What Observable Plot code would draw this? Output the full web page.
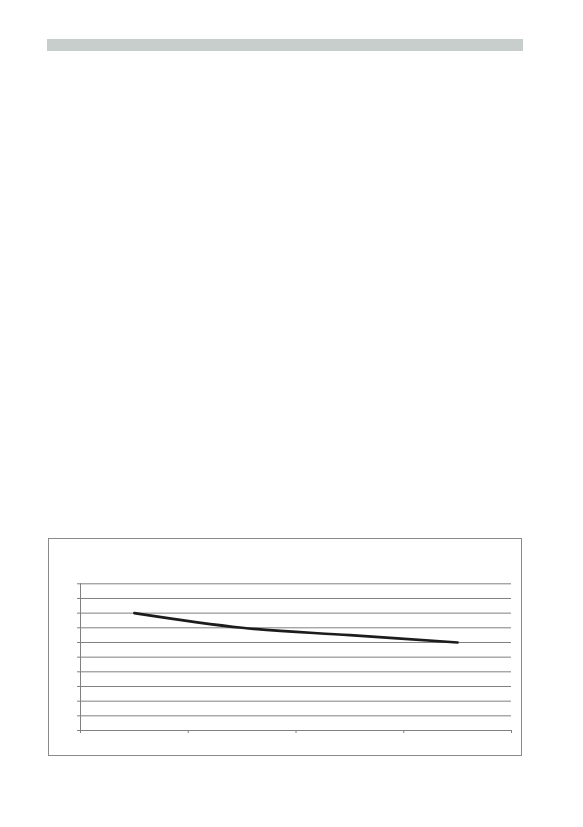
<!DOCTYPE html>
<html>
<head>
<meta charset="utf-8">
<script src="https://cdn.jsdelivr.net/npm/d3@7"></script>
<script src="https://cdn.jsdelivr.net/npm/@observablehq/plot@0.6"></script>
<style>
  html, body { margin: 0; padding: 0; background: #fff; }
  body { width: 583px; height: 827px; position: relative; overflow: hidden; font-family: "Liberation Sans", Arial, sans-serif; }
  #bar { position: absolute; left: 47px; top: 39px; width: 476px; height: 12px; background: #c8cecb; }
  #box { position: absolute; left: 48px; top: 538px; width: 474px; height: 218px; border: 1px solid #8a8a8a; box-sizing: border-box; }
  #chart { position: absolute; left: 0; top: 0; }
</style>
</head>
<body>
<div id="bar"></div>
<div id="box"></div>
<div id="chart"></div>
<script>
const categories = ["1", "2", "3", "4"];
const values = [8, 7, 6.5, 6];
const yTicks = [0, 1, 2, 3, 4, 5, 6, 7, 8, 9, 10];

const data = categories.map((c, i) => ({category: c, pos: i + 0.5, value: values[i]}));
const xBoundaries = d3.range(0, categories.length + 1);

const chart = Plot.plot({
  width: 583,
  height: 827,
  marginLeft: 80,
  marginRight: 72,
  marginTop: 583.3,
  marginBottom: 97,
  style: {background: "transparent", overflow: "visible"},
  x: {domain: [0, categories.length], label: null},
  y: {domain: [0, 10], label: null},
  marks: [
    Plot.gridY(yTicks, {stroke: "#808080", strokeOpacity: 1, strokeWidth: 1}),
    Plot.axisY({ticks: yTicks, tickFormat: () => "", tickSize: 3, stroke: "#808080", strokeWidth: 1, label: null}),
    Plot.axisX({ticks: xBoundaries, tickFormat: () => "", tickSize: 3, stroke: "#808080", strokeWidth: 1, label: null}),
    Plot.ruleX([0], {stroke: "#808080", strokeWidth: 1}),
    Plot.line(data, {x: "pos", y: "value", stroke: "#1c1c1c", strokeWidth: 2.6, curve: "catmull-rom"})
  ]
});
document.getElementById("chart").appendChild(chart);
</script>
</body>
</html>
